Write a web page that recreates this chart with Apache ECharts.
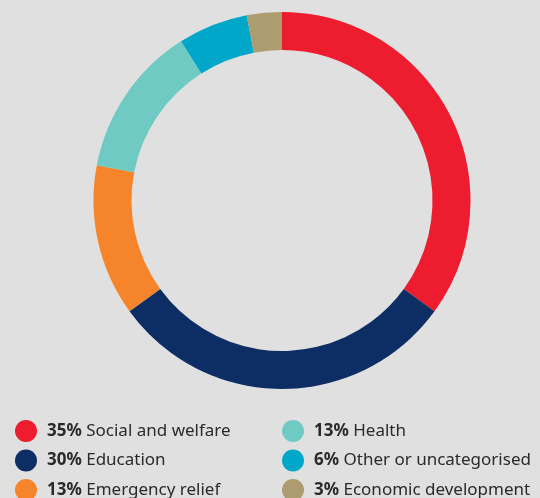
<!DOCTYPE html>
<html><head><meta charset="utf-8">
<script src="https://cdn.jsdelivr.net/npm/echarts@6/dist/echarts.min.js"></script>
<style>html,body{margin:0;padding:0;background:#e0e0e0}#c{width:540px;height:498px}</style>
</head><body><div id="c"></div>
<script>
const categories = ["Social and welfare","Education","Emergency relief","Health","Other or uncategorised","Economic development"];
const values = [35, 30, 13, 13, 6, 3];
const colors = ["#ee1c2f","#0c2e64","#f5842b","#6fcac4","#00a7c9","#ad9c6f"];

const chart = echarts.init(document.getElementById('c'));
const valueOf = {};
categories.forEach((c,i)=>valueOf[c]=values[i]);
const legendBase = {
  orient: 'vertical', icon: 'circle', itemWidth: 22, itemHeight: 22, itemGap: 7.5,
  top: 420, height: 120, padding: 0, selectedMode: false,
  formatter: name => '{b|' + valueOf[name] + '%}{n| ' + name + '}',
  textStyle: {
    padding: [0,0,0,5],
    rich: {
      b: {fontFamily: 'Noto Sans', fontWeight: 'bold', fontSize: 17, color: '#2a2a2a', lineHeight: 22},
      n: {fontFamily: 'Noto Sans', fontSize: 17, color: '#2a2a2a', lineHeight: 22}
    }
  }
};
chart.setOption({
  backgroundColor: '#e0e0e0',
  animation: false,
  color: colors,
  legend: [
    Object.assign({}, legendBase, {left: 15, data: categories.slice(0,3)}),
    Object.assign({}, legendBase, {left: 282, data: categories.slice(3)})
  ],
  series: [{
    type: 'pie',
    center: [282, 200.5],
    radius: [150.5, 188.5],
    startAngle: 90,
    clockwise: true,
    label: {show: false},
    labelLine: {show: false},
    emphasis: {disabled: true},
    itemStyle: {borderWidth: 0},
    data: categories.map((c,i)=>({name: c, value: values[i]}))
  }]
});
</script></body></html>
